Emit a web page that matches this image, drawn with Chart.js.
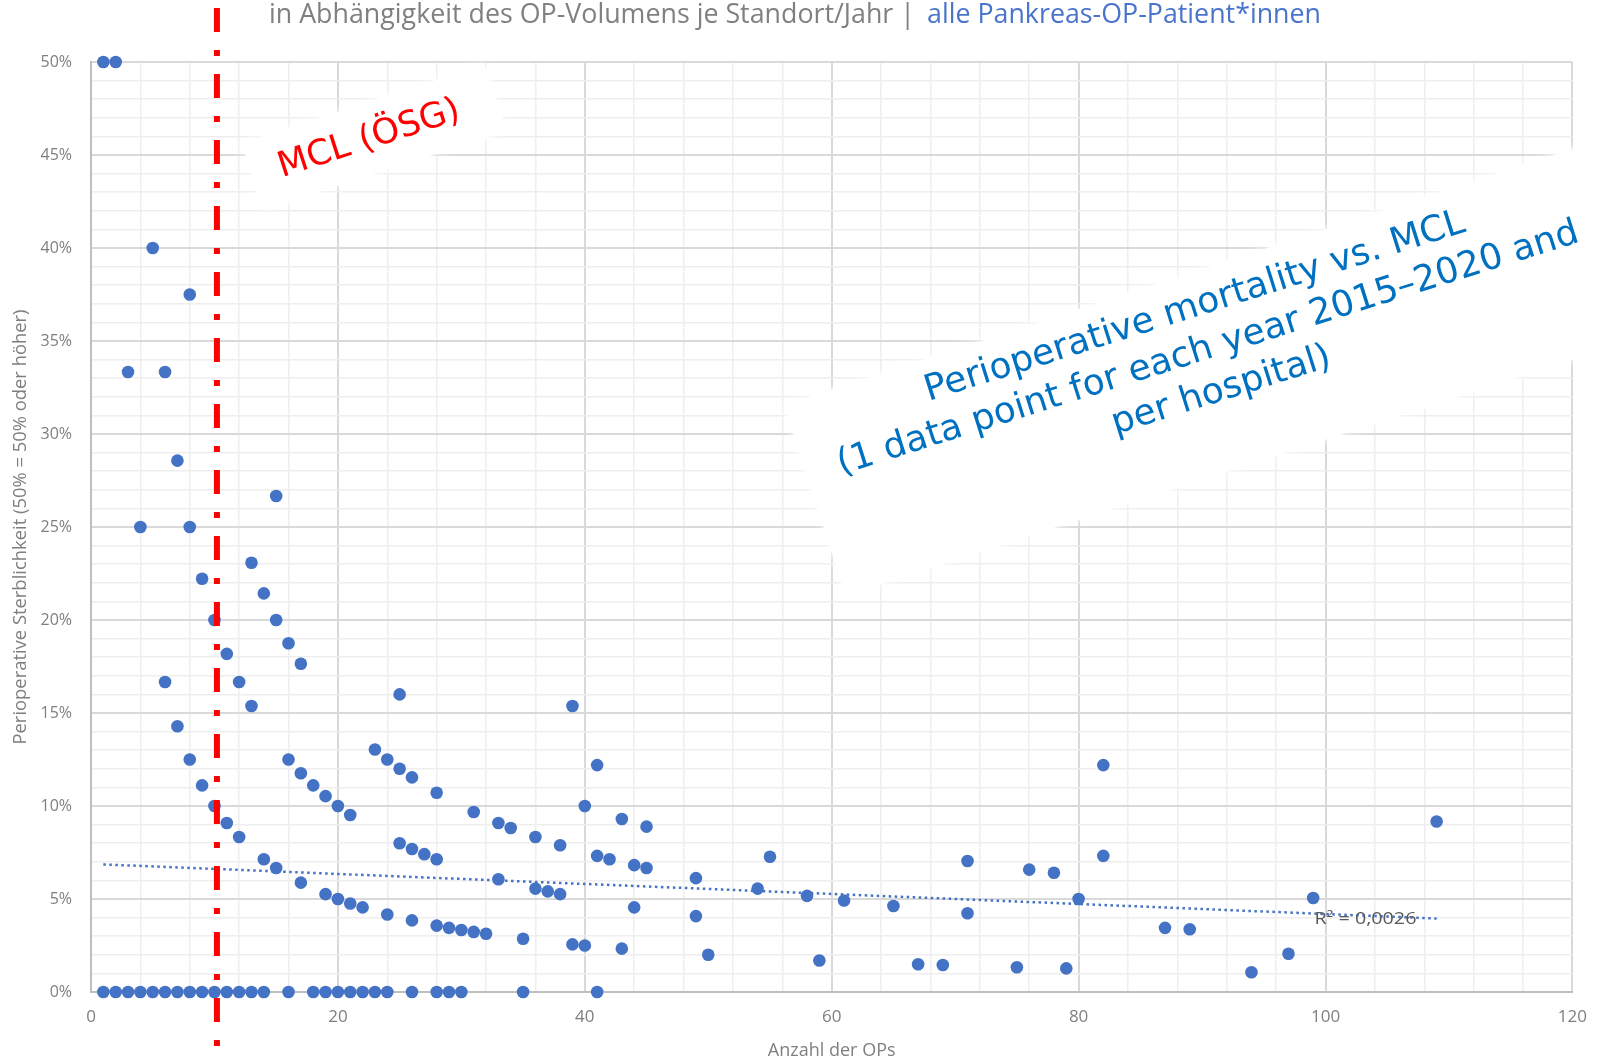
<!DOCTYPE html>
<html>
<head>
<meta charset="utf-8">
<script src="https://cdn.jsdelivr.net/npm/chart.js@4.4.1/dist/chart.umd.min.js"></script>
<style>
  html, body { margin: 0; padding: 0; background: #fff; }
  canvas { display: block; }
</style>
</head>
<body>
<canvas id="scatter" width="1602" height="1062"></canvas>
<script>
// number of operations per site and year, and perioperative mortality (%)
const ops = [
  1, 2, 3, 4, 5, 6, 7, 8, 9, 10, 11, 12, 13, 14, 16, 18, 19, 20, 21, 22, 23, 24, 26, 28, 29, 30, 35, 41,
  1, 2, 3, 4, 5, 6, 6, 7, 7, 8, 8, 8, 9, 9, 10, 10, 11, 11, 12, 12, 13, 13, 14, 14,
  15, 15, 15, 16, 16, 17, 17, 17, 18, 19, 19, 20, 20, 21, 21, 22, 23, 24, 24,
  25, 25, 25, 26, 26, 26, 27, 28, 28, 28, 29, 30, 31, 31, 32, 33, 33, 34, 35, 36, 36, 37,
  38, 38, 39, 39, 40, 40, 41, 41, 42, 43, 43, 44, 44, 45, 45, 49, 49, 50, 54, 55, 58, 59,
  61, 65, 67, 69, 71, 71, 75, 76, 78, 79, 80, 82, 82, 87, 89, 94, 97, 99, 109
];
const mortality = [
  0, 0, 0, 0, 0, 0, 0, 0, 0, 0, 0, 0, 0, 0, 0, 0, 0, 0, 0, 0, 0, 0, 0, 0, 0, 0, 0, 0,
  50, 50, 33.33, 25, 40, 33.33, 16.67, 28.57, 14.29, 37.5, 25, 12.5, 22.22, 11.11, 20, 10, 18.18, 9.09, 16.67, 8.33, 23.08, 15.38, 21.43, 7.14,
  26.67, 20, 6.67, 18.75, 12.5, 17.65, 11.76, 5.88, 11.11, 10.53, 5.26, 10, 5, 9.52, 4.76, 4.55, 13.04, 12.5, 4.17,
  16, 12, 8, 11.54, 7.69, 3.85, 7.41, 10.71, 7.14, 3.57, 3.45, 3.33, 9.68, 3.23, 3.13, 9.09, 6.06, 8.82, 2.86, 8.33, 5.56, 5.41,
  7.89, 5.26, 15.38, 2.56, 10, 2.5, 12.2, 7.32, 7.14, 9.3, 2.33, 6.82, 4.55, 8.89, 6.67, 6.12, 4.08, 2, 5.56, 7.27, 5.17, 1.69,
  4.92, 4.62, 1.49, 1.45, 7.04, 4.23, 1.33, 6.58, 6.41, 1.27, 5, 12.2, 7.32, 3.45, 3.37, 1.06, 2.06, 5.05, 9.17
];

// linear trend line (Excel), R² = 0,0026
const trendOps = [1, 109];
const trendMortality = [6.86, 3.95];
const rSquaredLabel = 'R² = 0,0026';

// minimum caseload (MCL) per ÖSG, as placed in the picture
const mclOps = 10.2;

const titleGrey = 'in Abhängigkeit des OP-Volumens je Standort/Jahr |';
const titleBlue = 'alle Pankreas-OP-Patient*innen';
const mclLabel = 'MCL (ÖSG)';
const noteLines = [
  'Perioperative mortality vs. MCL',
  '(1 data point for each year 2015–2020 and',
  'per hospital)'
];

const blue = '#4472c4';
const grey = '#7f7f7f';

function whitePatch(ctx, cx, cy, deg, w, h) {
  ctx.save();
  ctx.translate(cx, cy);
  ctx.rotate(deg * Math.PI / 180);
  ctx.fillRect(-w / 2, -h / 2, w, h);
  ctx.restore();
}

function fitText(ctx, text, x, y, width) {
  const natural = ctx.measureText(text).width;
  ctx.save();
  ctx.translate(x, y);
  ctx.scale(width / natural, 1);
  ctx.fillText(text, 0, 0);
  ctx.restore();
}

const overlay = {
  id: 'overlay',
  beforeDatasetsDraw(chart) {
    const ctx = chart.ctx;
    ctx.save();
    ctx.fillStyle = '#fff';
    ctx.shadowColor = '#fff';
    ctx.shadowBlur = 10;
    whitePatch(ctx, 374, 137, -18, 255, 70);
    whitePatch(ctx, 1219, 369, -18, 850, 200);
    ctx.restore();
  },
  afterDatasetsDraw(chart) {
    const {ctx, scales: {x, y}} = chart;
    // R² label
    ctx.save();
    ctx.font = '16px "Open Sans"';
    ctx.fillStyle = '#595959';
    ctx.textBaseline = 'middle';
    fitText(ctx, rSquaredLabel, x.getPixelForValue(99.1), y.getPixelForValue(3.9), 102);
    ctx.restore();

    // MCL line
    const px = x.getPixelForValue(mclOps);
    ctx.save();
    ctx.strokeStyle = '#ff0000';
    ctx.lineWidth = 6;
    ctx.setLineDash([24, 18, 6, 18]);
    ctx.beginPath();
    ctx.moveTo(px, 8);
    ctx.lineTo(px, 1046);
    ctx.stroke();
    ctx.restore();
  },
  afterDraw(chart) {
    const ctx = chart.ctx;
    ctx.save();
    ctx.font = '28px "Open Sans"';
    ctx.textBaseline = 'alphabetic';
    ctx.fillStyle = '#808080';
    fitText(ctx, titleGrey, 269, 23, 646);
    ctx.fillStyle = '#4a74cc';
    fitText(ctx, titleBlue, 927, 23, 394);
    ctx.restore();

    ctx.save();
    ctx.translate(372, 148);
    ctx.rotate(-18 * Math.PI / 180);
    ctx.font = '35px "DejaVu Sans"';
    ctx.fillStyle = '#ff0000';
    ctx.textAlign = 'center';
    ctx.fillText(mclLabel, 0, 0);
    ctx.restore();

    ctx.save();
    ctx.translate(1211, 358);
    ctx.rotate(-17.5 * Math.PI / 180);
    ctx.font = '36px "DejaVu Sans"';
    ctx.fillStyle = '#0070c0';
    ctx.textAlign = 'center';
    noteLines.forEach((line, i) => ctx.fillText(line, 0, (i - 1) * 44));
    ctx.restore();
  }
};

new Chart(document.getElementById('scatter'), {
  type: 'scatter',
  plugins: [overlay],
  data: {
    datasets: [
      {
        data: ops.map((v, i) => ({x: v, y: mortality[i]})),
        backgroundColor: blue,
        borderWidth: 0,
        pointRadius: 6.3,
        pointHoverRadius: 6.3,
        clip: false,
        order: 1,
      },
      {
        type: 'line',
        data: trendOps.map((v, i) => ({x: v, y: trendMortality[i]})),
        borderColor: blue,
        borderWidth: 2.5,
        borderDash: [2.5, 3.5],
        pointRadius: 0,
        fill: false,
        order: 2,
      }
    ]
  },
  options: {
    responsive: false,
    animation: false,
    devicePixelRatio: 1,
    layout: {
      padding: {left: 0, right: 27, top: 62, bottom: 0}
    },
    plugins: {
      legend: {
        display: false,
      },
      tooltip: {
        enabled: false,
      },
    },
    scales: {
      x: {
        type: 'linear',
        min: 0,
        max: 120,
        afterFit: (axis) => { axis.height = 70; },
        border: {
          color: '#bfbfbf',
          width: 2,
        },
        grid: {
          drawTicks: false,
          color: (c) => c.tick.value % 20 === 0 ? '#d9d9d9' : '#eeeeee',
          lineWidth: (c) => c.tick.value % 20 === 0 ? 2 : 1.5,
        },
        ticks: {
          stepSize: 4,
          autoSkip: false,
          maxRotation: 0,
          padding: 15,
          color: grey,
          font: { family: 'Open Sans', size: 17 },
          callback: (v) => v % 20 === 0 ? String(v) : '',
        },
        title: {
          display: true,
          text: 'Anzahl der OPs',
          color: grey,
          font: { family: 'Open Sans', size: 18 },
          padding: { top: 0, bottom: 0 },
        }
      },
      y: {
        min: 0,
        max: 50,
        afterFit: (axis) => { axis.width = 91; },
        border: {
          color: '#bfbfbf',
          width: 2,
        },
        grid: {
          drawTicks: false,
          color: (c) => c.tick.value % 5 === 0 ? '#d9d9d9' : '#eeeeee',
          lineWidth: (c) => c.tick.value % 5 === 0 ? 2 : 1.5,
        },
        ticks: {
          stepSize: 1,
          autoSkip: false,
          padding: 19,
          color: grey,
          font: { family: 'Open Sans', size: 16 },
          callback: (v) => v % 5 === 0 ? v + '%' : '',
        },
        title: {
          display: true,
          text: 'Perioperative Sterblichkeit (50% = 50% oder höher)',
          color: grey,
          font: { family: 'Open Sans', size: 18.4 },
          padding: { top: 10, bottom: 0 },
        }
      }
    }
  },
});
</script>
</body>
</html>
